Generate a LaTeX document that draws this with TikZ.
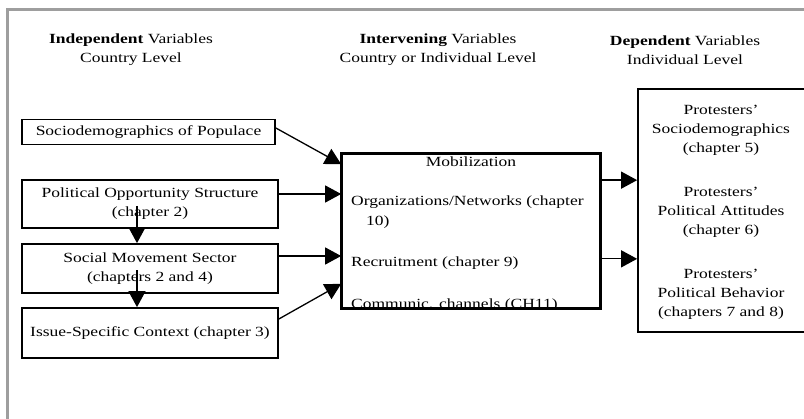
\documentclass[tikz,border=0pt]{standalone}
\usepackage{fontspec}
\setmainfont{Liberation Serif}[FakeStretch=1.25]
\usetikzlibrary{arrows.meta,positioning,calc}
\newcommand{\fsz}{\fontsize{14}{19}\selectfont}
\tikzset{
  box/.style={draw, line width=1.7pt, inner sep=0pt, align=center, font=\fsz},
  txt/.style={inner sep=0pt, align=center, font=\fsz},
  ltxt/.style={inner sep=0pt, anchor=west, font=\fsz},
  arr/.style={-{Triangle[length=16pt,width=17pt]}, line width=1.3pt},
}
\begin{document}
\begin{tikzpicture}[x=1pt,y=-1pt]
\useasboundingbox (0,0) rectangle (804,419);
\clip (0,0) rectangle (804,419);
% outer gray frame
\draw[line width=3pt, color=black!38] (7,419) -- (7,10) -- (810,10);
% headers
\node[txt] (h1) at (131,50) {\textbf{Independent} Variables\\Country Level};
\node[txt] (h2) at (438,50) {\textbf{Intervening} Variables\\Country or Individual Level};
\node[txt] (h3) at (685,50) {\textbf{Dependent} Variables\\Individual Level};
% left boxes
\node[box, minimum width=253pt, minimum height=25pt] (soc) at (148.5,132) {Sociodemographics of Populace};
\node[box, minimum width=256pt, minimum height=48pt] (pol) at (150,204) {Political Opportunity Structure\\(chapter 2)};
\node[box, minimum width=256pt, minimum height=49pt] (smv) at (150,268.5) {Social Movement Sector\\(chapters 2 and 4)};
\node[box, minimum width=256pt, minimum height=50pt] (iss) at (150,333) {Issue-Specific Context (chapter 3)};
% middle box
\node[box, minimum width=258pt, minimum height=154pt] (mob) at (471,231) {};
\node[txt] (mt) at (471,162) {Mobilization};
\node[ltxt] (m1) at (351,202) {Organizations/Networks (chapter};
\node[ltxt] (m2) at (366,222) {10)};
\node[ltxt] (m3) at (351,263) {Recruitment (chapter 9)};
\begin{scope}
\clip (mob.north west) rectangle (mob.south east);
\node[ltxt] (m4) at (351,305) {Communic. channels (CH11)};
\end{scope}
\draw[line width=1.7pt] (mob.north west) rectangle (mob.south east);
% right box
\node[box, minimum width=172pt, minimum height=243pt] (dep) at (724,210.5) {};
\node[txt] (dt) at (721,212.5) {Protesters'\\Sociodemographics\\(chapter 5)\\[25pt]Protesters'\\Political Attitudes\\(chapter 6)\\[25pt]Protesters'\\Political Behavior\\(chapters 7 and 8)};
% connectors
\coordinate (a1s) at ([yshift=4pt]soc.east);
\coordinate (a1e) at ([yshift=-11pt]mob.north west);
\draw[arr] (a1s) -- (a1e);
\coordinate (a2s) at ([yshift=10pt]pol.east);
\draw[arr] (a2s) -- (a2s -| mob.west);
\coordinate (a3s) at ([yshift=12.5pt]smv.east);
\draw[arr] (a3s) -- (a3s -| mob.west);
\coordinate (a4s) at ([yshift=14pt]iss.east);
\coordinate (a4e) at ([yshift=25pt]mob.south west);
\draw[arr] (a4s) -- (a4e);
\coordinate (r1s) at ([yshift=-27pt]mob.north east);
\draw[arr] (r1s) -- (r1s -| dep.west);
\coordinate (r2s) at ([yshift=50pt]mob.south east);
\draw[arr] (r2s) -- (r2s -| dep.west);
\coordinate (v1s) at ([xshift=-13pt,yshift=-2pt]pol.center);
\draw[arr] (v1s) -- (v1s |- smv.north);
\coordinate (v2s) at ([xshift=-13pt,yshift=-2pt]smv.center);
\draw[arr] (v2s) -- (v2s |- iss.north);
\end{tikzpicture}
\end{document}
